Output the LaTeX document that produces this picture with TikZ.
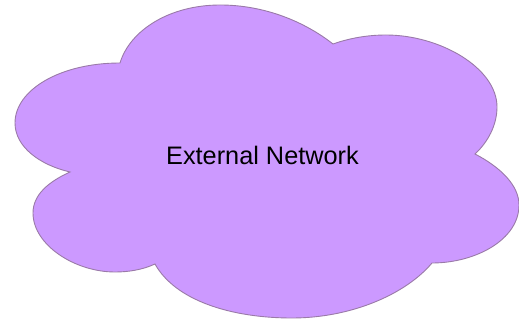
\documentclass[tikz,border=0pt]{standalone}
\usepackage{fontspec}
\setmainfont{Liberation Sans}
\definecolor{cloudfill}{HTML}{CC99FF}
\definecolor{cloudline}{HTML}{9A7AA8}
\tikzset{cloudshape/.style={fill=cloudfill,draw=cloudline,line width=0.9pt,line join=miter},
 cloudlabel/.style={text=black,font=\fontsize{25.3pt}{28pt}\selectfont,inner sep=0pt,anchor=base}}
\begin{document}
\begin{tikzpicture}[x=1pt,y=-1pt]
\useasboundingbox (0,0) rectangle (519,320);
\path[cloudshape] (120,63)
 .. controls (130,30) and (170,5) .. (220,5)
 .. controls (265,5) and (305,22) .. (333,44)
 .. controls (350,38) and (368,35) .. (386,35)
 .. controls (440,35) and (497,68) .. (497,107)
 .. controls (497,125) and (488,142) .. (475,154)
 .. controls (500,167) and (519,185) .. (519,205)
 .. controls (519,240) and (475,263) .. (432,263)
 .. controls (405,295) and (350,318) .. (292,318)
 .. controls (230,318) and (175,300) .. (155,264)
 .. controls (142,270) and (128,272) .. (115,272)
 .. controls (75,272) and (33,245) .. (33,213)
 .. controls (33,195) and (48,182) .. (70,172)
 .. controls (40,165) and (15,147) .. (15,123)
 .. controls (15,90) and (60,63) .. (120,63) -- cycle;
\node[cloudlabel] (label) at (262.5,164.5) {External Network};
\end{tikzpicture}
\end{document}
